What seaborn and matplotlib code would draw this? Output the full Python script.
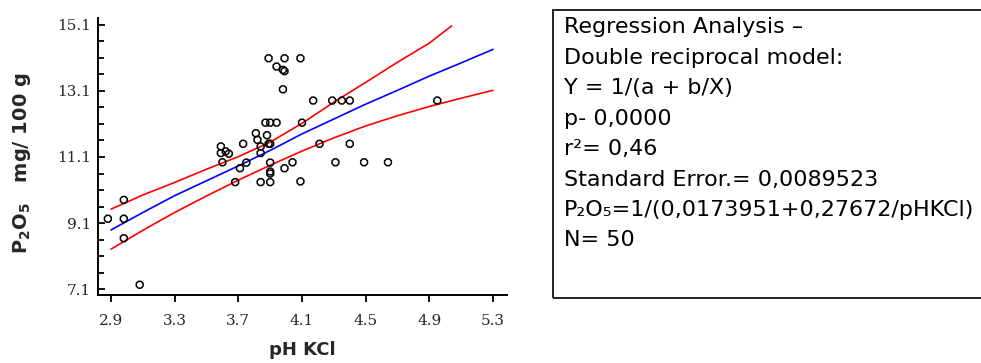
import matplotlib
matplotlib.use("Agg")
import matplotlib.pyplot as plt
import seaborn as sns
import pandas as pd
from matplotlib.patches import Rectangle
from matplotlib.ticker import MultipleLocator, FixedLocator

# ---- data ----
ph_kcl = [2.88, 2.98, 2.98, 2.98, 3.08, 3.59, 3.59, 3.62, 3.60, 3.64,
          3.68, 3.73, 3.71, 3.75, 3.81, 3.82, 3.84, 3.84, 3.84, 3.87,
          3.88, 3.89, 3.90, 3.90, 3.90, 3.90, 3.90, 3.90, 3.94, 3.89,
          3.94, 3.98, 3.99, 3.99, 3.98, 3.99, 4.04, 4.09, 4.10, 4.09,
          4.17, 4.21, 4.29, 4.31, 4.35, 4.40, 4.40, 4.49, 4.64, 4.95]
p2o5 = [9.23, 9.80, 9.23, 8.64, 7.23, 11.42, 11.22, 11.27, 10.94, 11.20,
        10.34, 11.50, 10.76, 10.93, 11.82, 11.62, 11.42, 11.22, 10.34, 12.14,
        11.76, 11.50, 12.14, 11.50, 10.93, 10.66, 10.60, 10.34, 12.14, 14.09,
        13.84, 13.74, 13.70, 14.09, 13.15, 10.76, 10.94, 14.09, 12.14, 10.36,
        12.81, 11.50, 12.81, 10.94, 12.81, 12.81, 11.50, 10.94, 10.94, 12.81]

fit_x = [2.9, 3.1, 3.3, 3.5, 3.7, 3.9, 4.1, 4.3, 4.5, 4.7, 4.9, 5.1, 5.3]
fit_y = [8.89, 9.42, 9.93, 10.38, 10.83, 11.30, 11.80, 12.25, 12.70, 13.12, 13.55, 13.95, 14.36]
upper_x = [2.9, 3.1, 3.3, 3.5, 3.7, 3.9, 4.1, 4.3, 4.5, 4.7, 4.9, 5.04]
upper_y = [9.52, 9.95, 10.33, 10.73, 11.11, 11.55, 12.12, 12.76, 13.36, 13.97, 14.55, 15.07]
lower_x = [2.9, 3.1, 3.3, 3.5, 3.7, 3.9, 4.1, 4.3, 4.5, 4.7, 4.9, 5.1, 5.3]
lower_y = [8.31, 8.88, 9.42, 9.92, 10.40, 10.85, 11.28, 11.68, 12.04, 12.35, 12.63, 12.88, 13.12]

x_ticks = [2.9, 3.3, 3.7, 4.1, 4.5, 4.9, 5.3]
y_ticks = [7.1, 9.1, 11.1, 13.1, 15.1]

info_lines = ["Regression Analysis \u2013",
              "Double reciprocal model:",
              "Y = 1/(a + b/X)",
              "p- 0,0000",
              "r\u00b2= 0,46",
              "Standard Error.= 0,0089523",
              "P\u2082O\u2085=1/(0,0173951+0,27672/pHKCl)",
              "N= 50"]

# ---- figure ----
sns.set_style("white")
plt.rcParams['font.family'] = ['DejaVu Sans']
W, H = 981, 363
fig = plt.figure(figsize=(W / 100, H / 100), dpi=100)
ax = fig.add_axes([98 / W, 1 - 295 / H, 409 / W, 277 / H])

pts = pd.DataFrame({"pH": ph_kcl, "P2O5": p2o5})
sns.scatterplot(data=pts, x="pH", y="P2O5", ax=ax, marker="8", s=28,
                facecolor="none", edgecolor="black", linewidth=1.1, zorder=3)

fit = pd.DataFrame({"x": fit_x, "y": fit_y})
up = pd.DataFrame({"x": upper_x, "y": upper_y})
lo = pd.DataFrame({"x": lower_x, "y": lower_y})
sns.lineplot(data=fit, x="x", y="y", ax=ax, color="#0000ff", lw=1.2, zorder=2)
sns.lineplot(data=up, x="x", y="y", ax=ax, color="#ff0000", lw=1.2, zorder=2)
sns.lineplot(data=lo, x="x", y="y", ax=ax, color="#ff0000", lw=1.2, zorder=2)

ax.set_xlim(2.818, 5.388)
ax.set_ylim(6.92, 15.31)
ax.xaxis.set_major_locator(FixedLocator(x_ticks))
ax.yaxis.set_major_locator(FixedLocator(y_ticks))
ax.yaxis.set_minor_locator(MultipleLocator(0.5, offset=0.1))
ax.set_xticklabels([f"{v:.1f}" for v in x_ticks], family="DejaVu Serif", fontsize=11)
ax.set_yticklabels([f"{v:.1f}" for v in y_ticks], family="DejaVu Serif", fontsize=11)

ax.tick_params(axis="x", which="major", direction="out", length=5, width=1.3,
               color="black", pad=9, bottom=True)
ax.tick_params(axis="y", which="major", direction="in", length=5, width=1.3,
               color="black", pad=5, left=True)
ax.tick_params(axis="y", which="minor", direction="in", length=4, width=1.3,
               color="black", left=True)

for s in ["top", "right"]:
    ax.spines[s].set_visible(False)
for s in ["left", "bottom"]:
    ax.spines[s].set_color("black")
    ax.spines[s].set_linewidth(1.4)

ax.set_xlabel("pH KCl", fontsize=13, fontweight="bold")
ax.set_ylabel(r"$\mathbf{P_2O_5}$   mg/ 100 g", fontsize=14, fontweight="bold")
ax.xaxis.set_label_coords(0.499, -0.199)
ax.xaxis.label.set_va("center")
ax.yaxis.set_label_coords(-0.185, 0.475)
ax.yaxis.label.set_va("center")

# ---- info box ----
box = Rectangle((553 / W, 1 - 298 / H), (W + 10 - 553) / W, 288 / H,
                transform=fig.transFigure, fill=False, edgecolor="#222222",
                linewidth=1.4, clip_on=False)
fig.patches.append(box)
for i, line in enumerate(info_lines):
    base = 33 + i * 30.5
    fig.text(564 / W, 1 - base / H, line, fontsize=16, va="baseline",
             ha="left", color="black")

fig.savefig("out.png", dpi=100)
